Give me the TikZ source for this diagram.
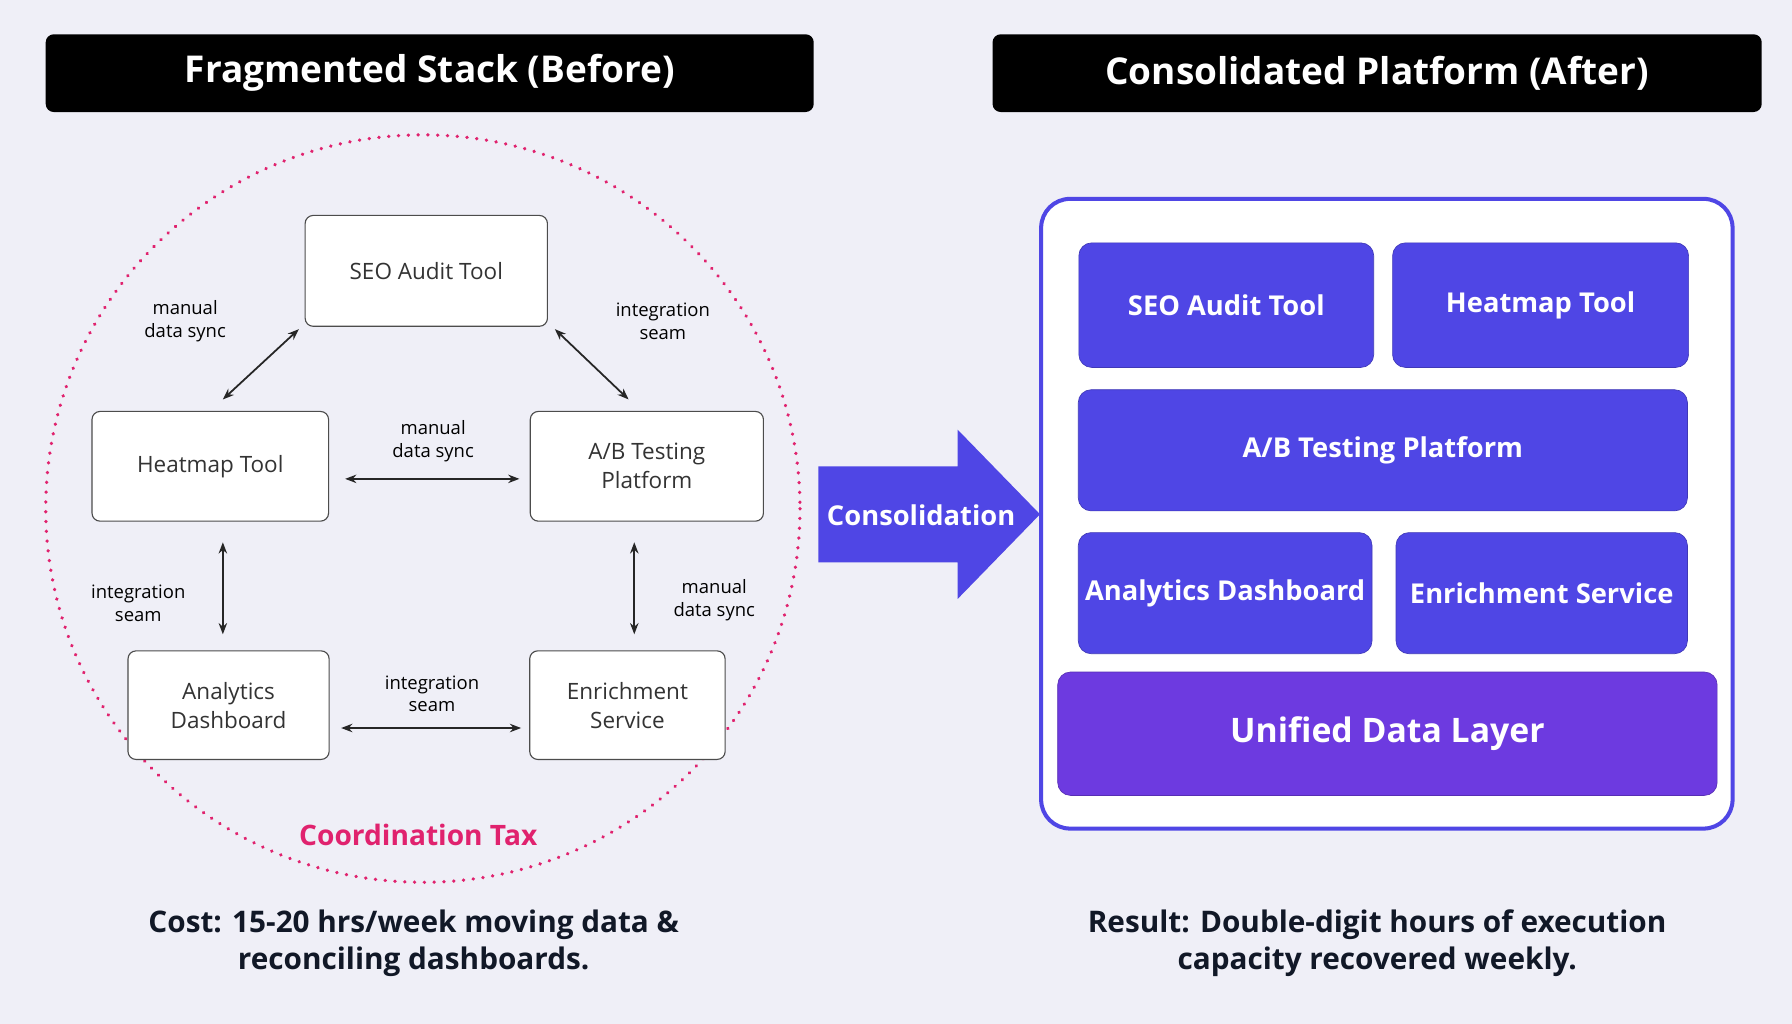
\documentclass[tikz,border=0pt]{standalone}
\usepackage{fontspec}
\setmainfont{Open Sans}
\usetikzlibrary{arrows.meta, positioning, calc}
\definecolor{bgcol}{HTML}{EFEFF7}
\definecolor{taxcol}{HTML}{E0226E}
\definecolor{indigo}{HTML}{4F46E5}
\definecolor{violet}{HTML}{6D3AE0}
\definecolor{navy}{HTML}{111827}
\tikzset{
  titlebar/.style={fill=black, rounded corners=5pt, text=white, font=\fontsize{23}{28}\selectfont\bfseries},
  toolbox/.style={draw=black!70, fill=white, rounded corners=5pt, line width=0.7pt, align=center, font=\fontsize{14}{18}\selectfont, text=black!80},
  platbox/.style={fill=indigo, draw=indigo!80!black, rounded corners=8pt, text=white, align=center, font=\fontsize{17}{21}\selectfont\bfseries},
  seamlabel/.style={align=center, font=\fontsize{11.5}{14}\selectfont, text=black},
  link/.style={{Stealth[length=7pt]}-{Stealth[length=7pt]}, line width=1.1pt, black!85},
  note/.style={align=center, font=\fontsize{18.5}{23}\selectfont\bfseries, text=navy}
}
\begin{document}
\begin{tikzpicture}[x=0.025cm, y=-0.025cm]
    % Background
    \fill[bgcol] (0,0) rectangle (1568,896);
    \useasboundingbox (0,0) rectangle (1568,896);

    % Titles
    \node[titlebar, minimum width=672*0.025cm, minimum height=68*0.025cm] (tleft) at (376,64) {Fragmented Stack (Before)};
    \node[titlebar, minimum width=673*0.025cm, minimum height=68*0.025cm] (tright) at (1205,64) {Consolidated Platform (After)};

    % Coordination boundary
    \draw[taxcol, line width=2.2pt, dash pattern=on 0.1pt off 6pt, line cap=round] (370,445) ellipse [x radius=330, y radius=327];

    % Separate tools
    \node[toolbox, minimum width=212*0.025cm, minimum height=97*0.025cm] (seo) at (373,237) {SEO Audit Tool};
    \node[toolbox, minimum width=207*0.025cm, minimum height=96*0.025cm] (heat) at (184,408) {Heatmap Tool};
    \node[toolbox, minimum width=204*0.025cm, minimum height=96*0.025cm] (ab) at (566,408) {A/B Testing\\Platform};
    \node[toolbox, minimum width=176*0.025cm, minimum height=95*0.025cm] (ana) at (200,617) {Analytics\\Dashboard};
    \node[toolbox, minimum width=171*0.025cm, minimum height=95*0.025cm] (enr) at (549,617) {Enrichment\\Service};

    % Seams
    \draw[link] ($(seo.south west)+(-5,2)$) -- ($(heat.north)+(11,-10)$);
    \draw[link] ($(seo.south east)+(6,2)$) -- ($(ab.north)+(-16,-10)$);
    \draw[link] ($(heat.east)+(14,11)$) -- ($(ab.west)+(-9,11)$);
    \draw[link] ($(heat.south)+(11,18)$) -- ($(ana.north)+(-5,-14)$);
    \draw[link] ($(ab.south)+(-11,18)$) -- ($(enr.north)+(6,-14)$);
    \draw[link] ($(ana.east)+(10,20)$) -- ($(enr.west)+(-7,20)$);

    % Seam labels
    \node[seamlabel] (l1) at (162,281) {manual\\data sync};
    \node[seamlabel] (l2) at (580,281) {integration\\seam};
    \node[seamlabel] (l3) at (379,386) {manual\\data sync};
    \node[seamlabel] (l4) at (121,528) {integration\\seam};
    \node[seamlabel] (l5) at (625,525) {manual\\data sync};
    \node[seamlabel] (l6) at (378,607) {integration\\seam};

    \node[text=taxcol, font=\fontsize{17.5}{21}\selectfont\bfseries] (tax) at (366,731) {Coordination Tax};

    % Consolidation arrow
    \fill[indigo] (716,408) -- (838,408) -- (838,376) -- (910,450) -- (838,524) -- (838,492) -- (716,492) -- cycle;
    \node[text=white, font=\fontsize{17}{21}\selectfont\bfseries] (cons) at (806,451) {Consolidation};

    % Platform
    \draw[indigo, line width=2.5pt, fill=white, rounded corners=18pt] (911,174) rectangle (1516,725);
    \node[platbox, minimum width=258*0.025cm, minimum height=109*0.025cm] (pseo) at (1073,267) {SEO Audit Tool};
    \node[platbox, minimum width=259*0.025cm, minimum height=109*0.025cm] (pheat) at (1348,267) {Heatmap Tool};
    \node[platbox, minimum width=533*0.025cm, minimum height=106*0.025cm] (pab) at (1210,394) {A/B Testing Platform};
    \node[platbox, minimum width=257*0.025cm, minimum height=106*0.025cm] (pana) at (1072,519) {Analytics Dashboard};
    \node[platbox, minimum width=255*0.025cm, minimum height=106*0.025cm] (penr) at (1349,519) {Enrichment Service};
    \node[platbox, fill=violet, draw=violet!80!black, minimum width=577*0.025cm, minimum height=108*0.025cm, font=\fontsize{21}{25}\selectfont\bfseries] (unified) at (1214,642) {Unified Data Layer};

    % Notes
    \node[note] (cost) at (362,825) {Cost: 15-20 hrs/week moving data \&\\reconciling dashboards.};
    \node[note] (result) at (1205,825) {Result: Double-digit hours of execution\\capacity recovered weekly.};
\end{tikzpicture}
\end{document}
